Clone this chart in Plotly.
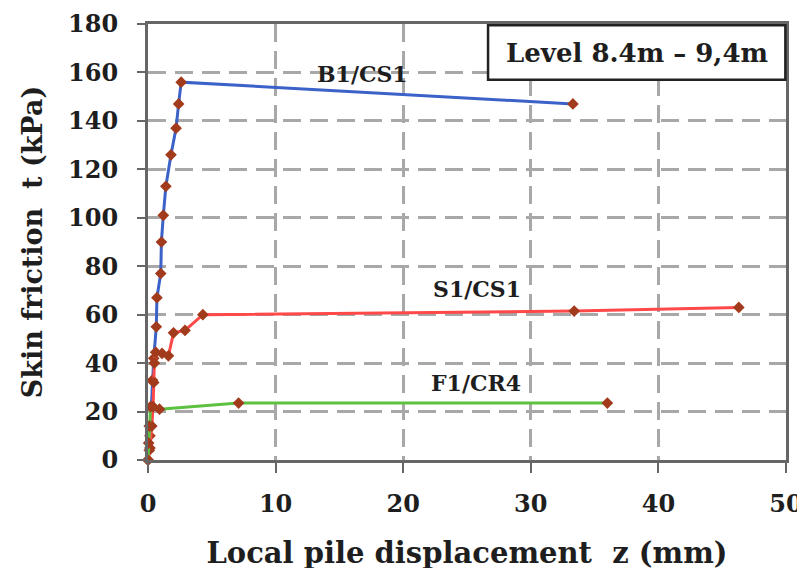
import plotly.graph_objects as go

# ---- data ----
b1_z = [0, 0.1, 0.15, 0.25, 0.35, 0.45, 0.65, 0.7, 1.0, 1.05, 1.2, 1.4, 1.8, 2.2, 2.4, 2.6, 33.3]
b1_t = [0, 4, 10, 22, 33, 42, 55, 67, 77, 90, 101, 113, 126, 137, 147, 156, 147]

s1_z = [0, 0.15, 0.3, 0.4, 0.45, 0.5, 0.6, 1.1, 1.6, 2.0, 2.9, 4.3, 33.4, 46.3]
s1_t = [0, 5, 14, 22, 32, 40, 44.5, 44, 43, 52.5, 53.5, 60, 61.5, 63]

f1_z = [0, 0.05, 0.1, 0.2, 0.9, 7.1, 36.0]
f1_t = [0, 7, 14, 22, 21, 23.5, 23.5]

series_names = ["B1/CS1", "S1/CS1", "F1/CR4"]
label_z = [16.8, 25.8, 25.7]
label_t = [159.5, 70.7, 31.6]

x_ticks = [0, 10, 20, 30, 40, 50]
y_ticks = [0, 20, 40, 60, 80, 100, 120, 140, 160, 180]

box_text = "Level 8.4m – 9,4m"

# ---- styling ----
FONT = "DejaVu Serif"
TXT = "#1e1e1e"
MARK = "#a23a1c"
colors = ["#3b62c9", "#ff4848", "#5cc040"]

fig = go.Figure()
for z, t, c, n in zip([b1_z, s1_z, f1_z], [b1_t, s1_t, f1_t], colors, series_names):
    fig.add_trace(go.Scatter(
        x=z, y=t, mode="lines+markers", name=n,
        line=dict(color=c, width=3),
        marker=dict(symbol="diamond", size=9, color=MARK),
        showlegend=False, cliponaxis=False,
    ))

for n, z, t in zip(series_names, label_z, label_t):
    fig.add_annotation(x=z, y=t, text="<b>%s</b>" % n, showarrow=False,
                       font=dict(family=FONT, size=22, color=TXT))

# level box
fig.add_shape(type="rect", xref="paper", yref="paper",
              x0=0.533, x1=0.999, y0=0.872, y1=0.997,
              line=dict(color="#222", width=2.5), fillcolor="white", layer="above")
fig.add_annotation(xref="paper", yref="paper", x=0.766, y=0.934,
                   xanchor="center", yanchor="middle",
                   text="<b>%s</b>" % box_text, showarrow=False,
                   font=dict(family=FONT, size=26, color=TXT))

axis_common = dict(
    showline=True, linecolor="#666", linewidth=3, mirror=True,
    showgrid=True, gridcolor="#a8a8a8", gridwidth=2.5, griddash="18px,9px",
    zeroline=False, ticks="outside", tickcolor="#666", tickwidth=2,
    automargin=False, ticklabeloverflow="allow",
    tickfont=dict(family=FONT, size=24, color=TXT, weight="bold"),
)

fig.update_xaxes(range=[0, 50], tickvals=x_ticks, ticklen=10, ticklabelstandoff=10,
                 title=dict(text="<b>Local pile displacement  z (mm)</b>",
                            font=dict(family=FONT, size=29, color=TXT), standoff=26),
                 **axis_common)
fig.update_yaxes(range=[0, 180], tickvals=y_ticks, ticklen=8, ticklabelstandoff=14,
                 title=dict(text="<b>Skin friction  t (kPa)</b>",
                            font=dict(family=FONT, size=27, color=TXT), standoff=18),
                 **axis_common)

fig.update_layout(
    width=805, height=568,
    margin=dict(l=140, r=27, t=16, b=116),
    paper_bgcolor="white", plot_bgcolor="white",
)

fig.write_html("out.html")
